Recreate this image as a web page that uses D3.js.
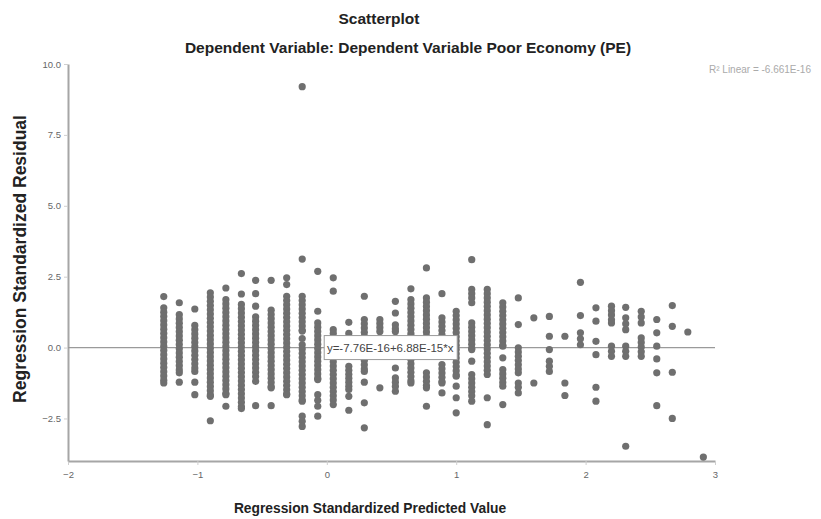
<!DOCTYPE html>
<html>
<head>
<meta charset="utf-8">
<script src="https://cdn.jsdelivr.net/npm/d3@7/dist/d3.min.js"></script>
<style>
  body { margin: 0; background: #fff; }
  svg { display: block; font-family: "Liberation Sans", Arial, sans-serif; }
</style>
</head>
<body>
<svg id="chart" width="821" height="519"></svg>
<script>
const title = 'Scatterplot'
const subtitle = 'Dependent Variable: Dependent Variable Poor Economy (PE)'
const xLabel = 'Regression Standardized Predicted Value'
const yLabel = 'Regression Standardized Residual'
const fitLabel = 'y=-7.76E-16+6.88E-15*x'
const r2Label = 'R² Linear = -6.661E-16'

const xTicks = [-2, -1, 0, 1, 2, 3]
const yTicks = [-2.5, 0, 2.5, 5, 7.5, 10]

// predicted value of each column of points
const predicted = [-1.26, -1.14, -1.02, -0.90, -0.78, -0.66, -0.55, -0.43, -0.31, -0.19,
  -0.07, 0.05, 0.17, 0.29, 0.41, 0.53, 0.65, 0.77, 0.89, 1.00, 1.12, 1.24, 1.36, 1.48,
  1.60, 1.72, 1.84, 1.96, 2.08, 2.20, 2.31, 2.43, 2.55, 2.67, 2.79, 2.91]

// residuals for each column, same order as predicted
const residuals = [
  [1.80, 1.40, 1.25, 1.10, 0.95, 0.80, 0.65, 0.50, 0.35, 0.20, 0.05, -0.10, -0.25, -0.40, -0.55, -0.70, -0.85, -1.00, -1.15, -1.25],
  [1.58, 1.16, 1.01, 0.86, 0.71, 0.56, 0.41, 0.26, 0.11, -0.04, -0.19, -0.34, -0.49, -0.64, -0.79, -0.89, -1.22],
  [1.36, 0.78, 0.63, 0.48, 0.33, 0.18, 0.03, -0.12, -0.27, -0.42, -0.57, -0.72, -0.84, -1.22, -1.66],
  [1.93, 1.78, 1.63, 1.48, 1.33, 1.18, 1.03, 0.88, 0.73, 0.58, 0.43, 0.28, 0.13, -0.02, -0.17, -0.32, -0.47, -0.62, -0.77, -0.92, -1.07, -1.22, -1.37, -1.52, -1.67, -1.72, -2.58],
  [2.10, 1.69, 1.54, 1.39, 1.24, 1.09, 0.94, 0.79, 0.64, 0.49, 0.34, 0.19, 0.04, -0.11, -0.26, -0.41, -0.56, -0.71, -0.86, -1.01, -1.16, -1.31, -1.46, -1.61, -1.66, -2.07],
  [2.61, 1.89, 1.52, 1.37, 1.22, 1.07, 0.92, 0.77, 0.62, 0.47, 0.32, 0.17, 0.02, -0.13, -0.28, -0.43, -0.58, -0.73, -0.88, -1.03, -1.18, -1.33, -1.48, -1.63, -1.78, -1.93, -2.08, -2.15],
  [2.37, 1.90, 1.46, 1.08, 0.93, 0.78, 0.63, 0.48, 0.33, 0.18, 0.03, -0.12, -0.27, -0.42, -0.57, -0.72, -0.87, -1.02, -1.19, -2.05],
  [2.37, 1.32, 1.17, 1.02, 0.87, 0.72, 0.57, 0.42, 0.27, 0.12, -0.03, -0.18, -0.33, -0.48, -0.63, -0.78, -0.93, -1.08, -1.23, -1.38, -1.42, -2.05],
  [2.46, 2.22, 1.81, 1.66, 1.51, 1.36, 1.21, 1.06, 0.91, 0.76, 0.61, 0.46, 0.31, 0.16, 0.01, -0.14, -0.29, -0.44, -0.59, -0.74, -0.89, -1.04, -1.19, -1.34, -1.49, -1.64, -1.66],
  [9.20, 3.12, 1.81, 1.66, 1.51, 1.36, 1.21, 1.06, 0.91, 0.76, 0.61, 0.58, 0.32, 0.10, -0.05, -0.20, -0.35, -0.50, -0.65, -0.80, -0.95, -1.10, -1.25, -1.40, -1.55, -1.70, -1.85, -1.89, -2.42, -2.60, -2.78],
  [2.69, 1.28, 0.87, 0.72, 0.57, 0.42, 0.27, 0.12, -0.03, -0.18, -0.33, -0.48, -0.63, -0.78, -0.93, -1.08, -1.13, -1.66, -1.86, -2.07, -2.42],
  [2.46, 1.99, 0.63, 0.50, -0.50, -0.65, -0.80, -0.95, -1.10, -1.25, -1.40, -1.55, -1.70, -1.85, -2.01],
  [0.89, 0.50, -0.66, -0.80, -0.94, -1.08, -1.22, -1.36, -1.48, -1.72, -2.21],
  [1.81, 0.99, 0.84, 0.69, 0.54, 0.40, -0.31, -0.46, -0.61, -0.76, -0.84, -1.22, -1.95, -2.83],
  [0.99, 0.85, 0.71, 0.57, -1.42],
  [1.63, 1.22, 0.80, 0.66, 0.57, -0.72, -1.07, -1.22, -1.37, -1.54],
  [2.07, 1.69, 1.54, 1.39, 1.24, 1.09, 0.94, 0.79, 0.64, 0.49, 0.40, -0.42, -0.57, -0.72, -0.87, -1.02, -1.17, -1.25],
  [2.81, 1.75, 1.60, 1.45, 1.30, 1.15, 1.00, 0.85, 0.70, 0.55, 0.40, -0.89, -1.04, -1.19, -1.34, -1.42, -2.07],
  [1.90, 1.05, 0.90, 0.75, 0.60, 0.45, 0.30, -0.60, -0.75, -0.90, -1.05, -1.20, -1.25, -1.60],
  [1.28, 1.13, 0.98, 0.83, 0.68, 0.53, 0.38, 0.23, 0.08, -0.07, -0.22, -0.37, -0.52, -0.67, -0.82, -0.97, -1.01, -1.36, -1.77, -2.30],
  [3.10, 2.05, 1.90, 1.75, 1.58, 0.87, 0.72, 0.57, 0.42, 0.27, 0.12, -0.03, -0.07, -0.48, -0.95, -1.10, -1.25, -1.40, -1.55, -1.70, -1.89],
  [2.05, 1.90, 1.75, 1.60, 1.45, 1.30, 1.15, 1.00, 0.85, 0.70, 0.55, 0.40, 0.25, 0.10, -0.05, -0.20, -0.35, -0.50, -0.65, -0.80, -0.95, -1.77, -2.72],
  [1.58, 1.43, 1.28, 1.13, 0.98, 0.83, 0.68, 0.53, 0.38, 0.23, 0.08, 0.05, -0.36, -0.78, -0.93, -1.08, -1.23, -1.36, -2.01],
  [1.75, 0.81, -0.01, -0.16, -0.31, -0.46, -0.61, -0.76, -0.89, -1.25, -1.40, -1.60],
  [1.05, -1.25],
  [1.10, 0.40, -0.07, -0.48, -0.66, -0.84],
  [0.40, -1.25, -1.69],
  [2.30, 1.13, 0.52, 0.31, 0.10],
  [1.40, 0.93, 0.22, -0.25, -1.40, -1.89],
  [1.46, 1.30, 1.15, 0.98, 0.87, 0.05, -0.13, -0.31],
  [1.42, 1.05, 0.84, 0.63, 0.05, -0.13, -0.31, -3.48],
  [1.28, 1.08, 0.87, 0.34, 0.18, 0.02, -0.15, -0.31],
  [0.99, 0.52, 0.05, -0.40, -0.89, -2.05],
  [1.48, 0.75, -0.87, -2.50],
  [0.55],
  [-3.86]
]

const points = predicted.flatMap((x, i) => residuals[i].map(y => ({ x, y })))

const margin = { top: 64, right: 106, bottom: 58, left: 68 }
const width = 821
const height = 519

const xScale = d3.scaleLinear().domain([-2, 3]).range([margin.left, width - margin.right])
const yScale = d3.scaleLinear().domain([-4, 10]).range([height - margin.bottom, margin.top])

const svg = d3.select('#chart')

svg.append('text')
  .attr('x', 379).attr('y', 23.5)
  .attr('text-anchor', 'middle')
  .style('font-size', '15.5px').style('font-weight', 'bold').style('fill', '#222')
  .text(title)

svg.append('text')
  .attr('x', 408).attr('y', 52.5)
  .attr('text-anchor', 'middle')
  .style('font-size', '15.5px').style('font-weight', 'bold').style('fill', '#222')
  .text(subtitle)

const xAxis = d3.axisBottom(xScale).tickValues(xTicks).tickSize(4).tickSizeOuter(0).tickFormat(d3.format('d'))
const yAxis = d3.axisLeft(yScale).tickValues(yTicks).tickSize(4).tickSizeOuter(0).tickFormat(d3.format('.1f'))

const gx = svg.append('g')
  .attr('transform', `translate(0, ${yScale(-4)})`)
  .call(xAxis)

const gy = svg.append('g')
  .attr('transform', `translate(${xScale(-2)}, 0)`)
  .call(yAxis)

for (const g of [gx, gy]) {
  g.select('.domain').attr('stroke', '#a6a6a6').attr('stroke-width', 2)
  g.selectAll('.tick line').attr('stroke', '#cfcfcf')
  g.selectAll('.tick text').style('font-size', '9.5px').style('fill', '#666').style('font-family', '"Liberation Sans", Arial, sans-serif')
}
gx.selectAll('.tick text').attr('dy', '1.1em')

// fit line at the mean residual
svg.append('line')
  .attr('x1', xScale(-2)).attr('x2', xScale(3))
  .attr('y1', yScale(0)).attr('y2', yScale(0))
  .attr('stroke', '#9a9a9a').attr('stroke-width', 1.3)

svg.append('g')
  .selectAll('circle')
  .data(points)
  .enter().append('circle')
    .attr('cx', d => xScale(d.x))
    .attr('cy', d => yScale(d.y))
    .attr('r', 3.6)
    .style('fill', '#6f6f6f')

// equation label on the fit line
const fx = xScale(0.49)
const fy = yScale(0)
const fit = svg.append('g')
fit.append('rect')
  .attr('x', fx - 66).attr('y', fy - 12)
  .attr('width', 133).attr('height', 24)
  .style('fill', '#fff').style('stroke', '#9a9a9a').style('stroke-width', 1)
fit.append('text')
  .attr('x', fx).attr('y', fy + 4)
  .attr('text-anchor', 'middle')
  .style('font-size', '11.5px').style('fill', '#444')
  .text(fitLabel)

svg.append('text')
  .attr('x', 811).attr('y', 73)
  .attr('text-anchor', 'end')
  .style('font-size', '10px').style('fill', '#aaa')
  .text(r2Label)

svg.append('text')
  .attr('x', 370).attr('y', 513)
  .attr('text-anchor', 'middle')
  .style('font-size', '13.8px').style('font-weight', 'bold').style('fill', '#222')
  .text(xLabel)

svg.append('text')
  .attr('transform', 'translate(26, 259) rotate(-90)')
  .attr('text-anchor', 'middle')
  .style('font-size', '17.5px').style('font-weight', 'bold').style('fill', '#222')
  .text(yLabel)
</script>
</body>
</html>
